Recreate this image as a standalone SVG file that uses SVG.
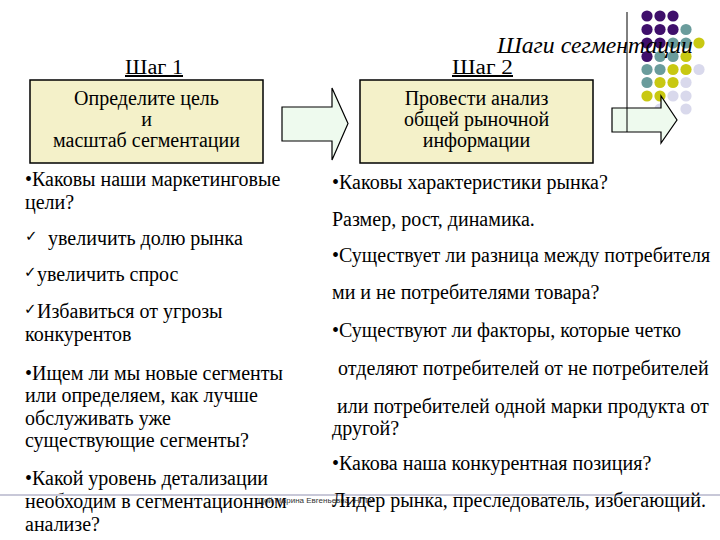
<svg xmlns="http://www.w3.org/2000/svg" width="720" height="540" viewBox="0 0 720 540">
<style>
.t{font-family:"Liberation Serif","DejaVu Serif",serif;fill:#000}
.body{font-size:20px}
.box{fill:#F4F1C9;stroke:#000;stroke-width:1.5}
.bt{font-size:20px;text-anchor:middle}
.step{font-size:20px;text-decoration:underline}
.arr{fill:#EEFAEE;stroke:#000;stroke-width:1.2}
.ck{font-family:"DejaVu Sans",sans-serif;font-size:15px}
.p{fill:#3F0F6B}.q{fill:#6A9C9C}.y{fill:#C8C812}.l{fill:#D9D9EC}
.ft{font-family:"Liberation Sans",Arial,sans-serif;font-size:8px;fill:#333}
</style>
<rect width="720" height="540" fill="#fff"/>
<g id="dots">
<circle class="p" cx="647" cy="16" r="5.6"/><circle class="p" cx="660" cy="16" r="5.6"/><circle class="p" cx="673" cy="16" r="5.6"/>
<circle class="p" cx="647" cy="29.5" r="5.6"/><circle class="p" cx="660" cy="29.5" r="5.6"/><circle class="p" cx="673" cy="29.5" r="5.6"/><circle class="q" cx="686" cy="29.5" r="5.6"/>
<circle class="p" cx="647" cy="43" r="5.6"/><circle class="p" cx="660" cy="43" r="5.6"/><circle class="q" cx="673" cy="43" r="5.6"/><circle class="q" cx="686" cy="43" r="5.6"/><circle class="y" cx="699" cy="43" r="5.6"/>
<circle class="p" cx="647" cy="56.5" r="5.6"/><circle class="q" cx="660" cy="56.5" r="5.6"/><circle class="q" cx="673" cy="56.5" r="5.6"/><circle class="y" cx="686" cy="56.5" r="5.6"/>
<circle class="q" cx="647" cy="69.5" r="5.6"/><circle class="q" cx="660" cy="69.5" r="5.6"/><circle class="y" cx="673" cy="69.5" r="5.6"/><circle class="y" cx="686" cy="69.5" r="5.6"/><circle class="l" cx="699" cy="69.5" r="5.6"/>
<circle class="q" cx="647" cy="82.5" r="5.6"/><circle class="y" cx="660" cy="82.5" r="5.6"/><circle class="y" cx="673" cy="82.5" r="5.6"/><circle class="l" cx="686" cy="82.5" r="5.6"/>
<circle class="y" cx="647" cy="96" r="5.6"/><circle class="y" cx="660" cy="96" r="5.6"/><circle class="l" cx="673" cy="96" r="5.6"/><circle class="l" cx="686" cy="96" r="5.6"/>
<circle class="l" cx="660" cy="109" r="5.6"/><circle class="l" cx="686" cy="109" r="5.6"/>
</g>
<g id="connectors">
<polygon class="arr" points="282,107 332,107 332,88 348,123.5 332,160 332,141 282,141"/>
<polygon class="arr" points="612,108 661,108 661,96 677,120 661,143 661,132 612,132"/>
</g>
<line x1="627" y1="12" x2="627" y2="132" stroke="#000" stroke-width="1"/>
<text class="t" x="497" y="53" font-size="23" font-style="italic" textLength="196" lengthAdjust="spacingAndGlyphs">Шаги сегментации</text>
<g id="step1">
<text class="t step" x="125" y="74" textLength="58" lengthAdjust="spacingAndGlyphs">Шаг 1</text>
<rect class="box" x="30" y="80" width="233" height="83"/>
<text class="t bt" x="146.5" y="105">Определите цель</text>
<text class="t bt" x="146.5" y="126">и</text>
<text class="t bt" x="146.5" y="147">масштаб сегментации</text>
</g>
<g id="step2">
<text class="t step" x="452" y="74" textLength="61" lengthAdjust="spacingAndGlyphs">Шаг 2</text>
<rect class="box" x="360" y="80" width="233" height="83"/>
<text class="t bt" x="476.5" y="105">Провести анализ</text>
<text class="t bt" x="476.5" y="126">общей рыночной</text>
<text class="t bt" x="476.5" y="147">информации</text>
</g>
<g id="left-text" class="t body">
<text x="25" y="186">•Каковы наши маркетинговые</text>
<text x="25" y="208.5">цели?</text>
<text class="ck" x="25" y="241">✓</text><text x="48" y="245">увеличить долю рынка</text>
<text class="ck" x="24" y="277">✓</text><text x="37" y="281">увеличить спрос</text>
<text class="ck" x="24" y="314">✓</text><text x="37" y="318">Избавиться от угрозы</text>
<text x="25" y="341">конкурентов</text>
<text x="25" y="379.5">•Ищем ли мы новые сегменты</text>
<text x="25" y="402">или определяем, как лучше</text>
<text x="25" y="424.5">обслуживать уже</text>
<text x="25" y="447">существующие сегменты?</text>
<text x="25" y="485">•Какой уровень детализации</text>
<text x="25" y="508">необходим в сегментационном</text>
<text x="25" y="531">анализе?</text>
</g>
<line x1="0" y1="495" x2="720" y2="495" stroke="#C8C8D8" stroke-width="2"/>
<text class="ft" x="258" y="503">Цой Марина Евгеньевна, НГТУ</text>
<g id="right-text" class="t body">
<text x="332" y="189">•Каковы характеристики рынка?</text>
<text x="332" y="226">Размер, рост, динамика.</text>
<text x="332" y="262">•Существует ли разница между потребителя</text>
<text x="332" y="298.5">ми и не потребителями товара?</text>
<text x="332" y="336.5">•Существуют ли факторы, которые четко</text>
<text x="338" y="375">отделяют потребителей от не потребителей</text>
<text x="337" y="413">или потребителей одной марки продукта от</text>
<text x="332" y="435">другой?</text>
<text x="332" y="470">•Какова наша конкурентная позиция?</text>
<text x="332" y="507">Лидер рынка, преследователь, избегающий.</text>
</g>
</svg>
